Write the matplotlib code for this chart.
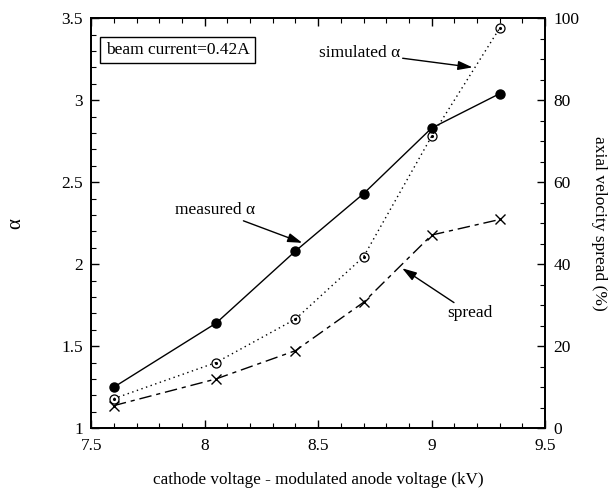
import matplotlib.pyplot as plt
from matplotlib.ticker import MultipleLocator

plt.rcParams['font.family'] = ['Liberation Serif', 'DejaVu Serif']

voltage = [7.6, 8.05, 8.4, 8.7, 9.0, 9.3]
alpha_measured = [1.25, 1.64, 2.08, 2.43, 2.83, 3.04]
alpha_simulated = [1.18, 1.40, 1.665, 2.045, 2.78, 3.44]
spread_pct = [5.5, 12.0, 18.9, 30.7, 47.1, 50.9]

fs = 12.5

fig = plt.figure(figsize=(6.16, 4.91), dpi=100)
ax = fig.add_axes([0.148, 0.128, 0.737, 0.835])
ax2 = ax.twinx()

ax.plot(voltage, alpha_measured, color='black', lw=1.0, marker='o',
        ms=6.5, mfc='black', mec='black')
ax.plot(voltage, alpha_simulated, color='black', lw=1.0, ls=(0, (1, 2.5)),
        marker='o', ms=6.5, mfc='none', mec='black', mew=0.9)
ax.plot(voltage, alpha_simulated, ls='none', marker='.', ms=2.5, color='black')
ax2.plot(voltage, spread_pct, color='black', lw=1.0, ls=(0, (9, 3.5, 3, 3.5)),
         marker='x', ms=7, mew=1.0)

ax.set_xlim(7.5, 9.5)
ax.set_ylim(1, 3.5)
ax2.set_ylim(0, 100)

ax.xaxis.set_major_locator(MultipleLocator(0.5))
ax.xaxis.set_minor_locator(MultipleLocator(0.1))
ax.yaxis.set_major_locator(MultipleLocator(0.5))
ax.yaxis.set_minor_locator(MultipleLocator(0.1))
ax2.yaxis.set_major_locator(MultipleLocator(20))
ax2.yaxis.set_minor_locator(MultipleLocator(5))
ax.xaxis.set_major_formatter(lambda v, p: f'{v:g}')
ax.yaxis.set_major_formatter(lambda v, p: f'{v:g}')

ax.tick_params(axis='x', which='both', direction='in', top=True, labelsize=fs, pad=7)
ax.tick_params(axis='y', which='both', direction='in', right=False, labelsize=fs, pad=6)
ax2.tick_params(axis='y', which='both', direction='in', labelsize=fs, pad=6)
for a in (ax, ax2):
    a.tick_params(which='major', length=6, width=1.0)
    a.tick_params(which='minor', length=3.5, width=0.8)
    for s in a.spines.values():
        s.set_linewidth(1.3)

ax.set_xlabel('cathode voltage - modulated anode voltage (kV)', fontsize=12.3, labelpad=13)
ax.set_ylabel('α', fontsize=15, labelpad=26)
ax2.set_ylabel('axial velocity spread (%)', fontsize=fs, rotation=-90, labelpad=20)

ax.text(0.19, 0.922, 'beam current=0.42A', transform=ax.transAxes, fontsize=fs,
        ha='center', va='center',
        bbox=dict(boxstyle='square,pad=0.3', fc='white', ec='black', lw=1.0))

arrow = dict(arrowstyle='-|>,head_length=0.7,head_width=0.22', color='black', lw=1.0,
             shrinkA=0, shrinkB=0)
ax.annotate('measured α', xy=(8.43, 2.13), xytext=(8.22, 2.33),
            fontsize=fs, ha='right', va='center', arrowprops=arrow)
ax.annotate('simulated α', xy=(9.18, 3.20), xytext=(8.86, 3.29),
            fontsize=fs, ha='right', va='center', arrowprops=arrow)
ax2.annotate('spread', xy=(8.87, 39), xytext=(9.07, 28),
             fontsize=fs, ha='left', va='center', arrowprops=arrow)

fig.savefig('out.png', dpi=100)
